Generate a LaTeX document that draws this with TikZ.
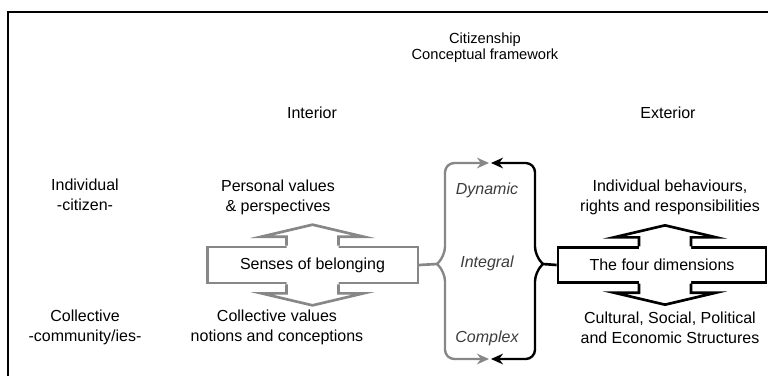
\documentclass[tikz,border=0pt]{standalone}
\usepackage{fontspec}
\setmainfont{Liberation Sans}
\usetikzlibrary{arrows.meta}
\definecolor{midgray}{RGB}{135,135,135}
\definecolor{inkgray}{RGB}{60,60,60}
\tikzset{
  txt/.style={align=center,inner sep=0pt,font=\fontsize{12}{15}\selectfont},
  quality/.style={txt,font=\itshape\fontsize{12}{15}\selectfont,text=inkgray},
  sensebox/.style={draw=#1,line width=2pt,fill=white,inner sep=0pt,txt},
  bracket/.style={line width=1.8pt,rounded corners=7pt},
  headtip/.style={-{Stealth[length=9pt,width=8pt]}}
}
\begin{document}
\begin{tikzpicture}[x=0.75pt,y=-0.75pt]
	\useasboundingbox (0,0) rectangle (768,376);
	\draw[line width=1pt] (8,376) -- (8,12) -- (768,12);
	% titles
	\node[txt,font=\fontsize{11}{12}\selectfont] (title) at (485,48) {Citizenship\\Conceptual framework};
	\node[txt] (interior) at (312,113) {Interior};
	\node[txt] (exterior) at (668,113) {Exterior};
	\node[txt] (individual) at (85,195) {Individual\\-citizen-};
	\node[txt] (collective) at (85,327) {Collective\\-community/ies-};
	\node[txt] (personal) at (278,197) {Personal values\\\& perspectives};
	\node[txt] (collvalues) at (277,327) {Collective values\\notions and conceptions};
	\node[txt] (behaviours) at (670,197) {Individual behaviours,\\rights and responsibilities};
	\node[txt] (structures) at (670,328) {Cultural, Social, Political\\and Economic Structures};
	\node[quality] (dynamic) at (487,190) {Dynamic};
	\node[quality] (integral) at (487,263) {Integral};
	\node[quality] (complex) at (487,338) {Complex};
	% boxes
	\node[sensebox=midgray,minimum width=158pt,minimum height=27pt] (senses) at (312.5,265) {Senses of belonging};
	\node[sensebox=black,minimum width=156pt,minimum height=26pt] (dims) at (662,265) {The four dimensions};
	% block arrows
	\foreach \b/\c/\d in {senses/midgray/0,dims/black/3}{
		\foreach \s/\a in {1/north,-1/south}{
			\fill[white] (\b.\a) ++(\d-26,3*\s) -- ++(0,-12*\s) -- ++(-25,0) -- ++(51,-12*\s) -- ++(51,12*\s) -- ++(-25,0) -- ++(0,12*\s) -- cycle;
			\draw[\c,line width=2pt,line join=miter] (\b.\a) ++(\d-26,0) -- ++(0,-9*\s) -- ++(-25,0) -- ++(51,-12*\s) -- ++(51,12*\s) -- ++(-25,0) -- ++(0,9*\s);
		}
	}
	% braces
	\coordinate (gtip) at (437,264);
	\coordinate (gtop) at (489,163);
	\coordinate (gbot) at (489,359);
	\coordinate (btip) at (543,264);
	\coordinate (btop) at (491,163);
	\coordinate (bbot) at (491,359);
	\draw[midgray,line width=2pt] (senses.east) -- (gtip);
	\draw[midgray,bracket,headtip] (gtip) -- ++(8,-8) |- (gtop);
	\draw[midgray,bracket,headtip] (gtip) -- ++(8,8) |- (gbot);
	\draw[black,line width=2pt] (dims.west) -- (btip);
	\draw[black,bracket,headtip] (btip) -- ++(-8,-8) |- (btop);
	\draw[black,bracket,headtip] (btip) -- ++(-8,8) |- (bbot);
\end{tikzpicture}
\end{document}
